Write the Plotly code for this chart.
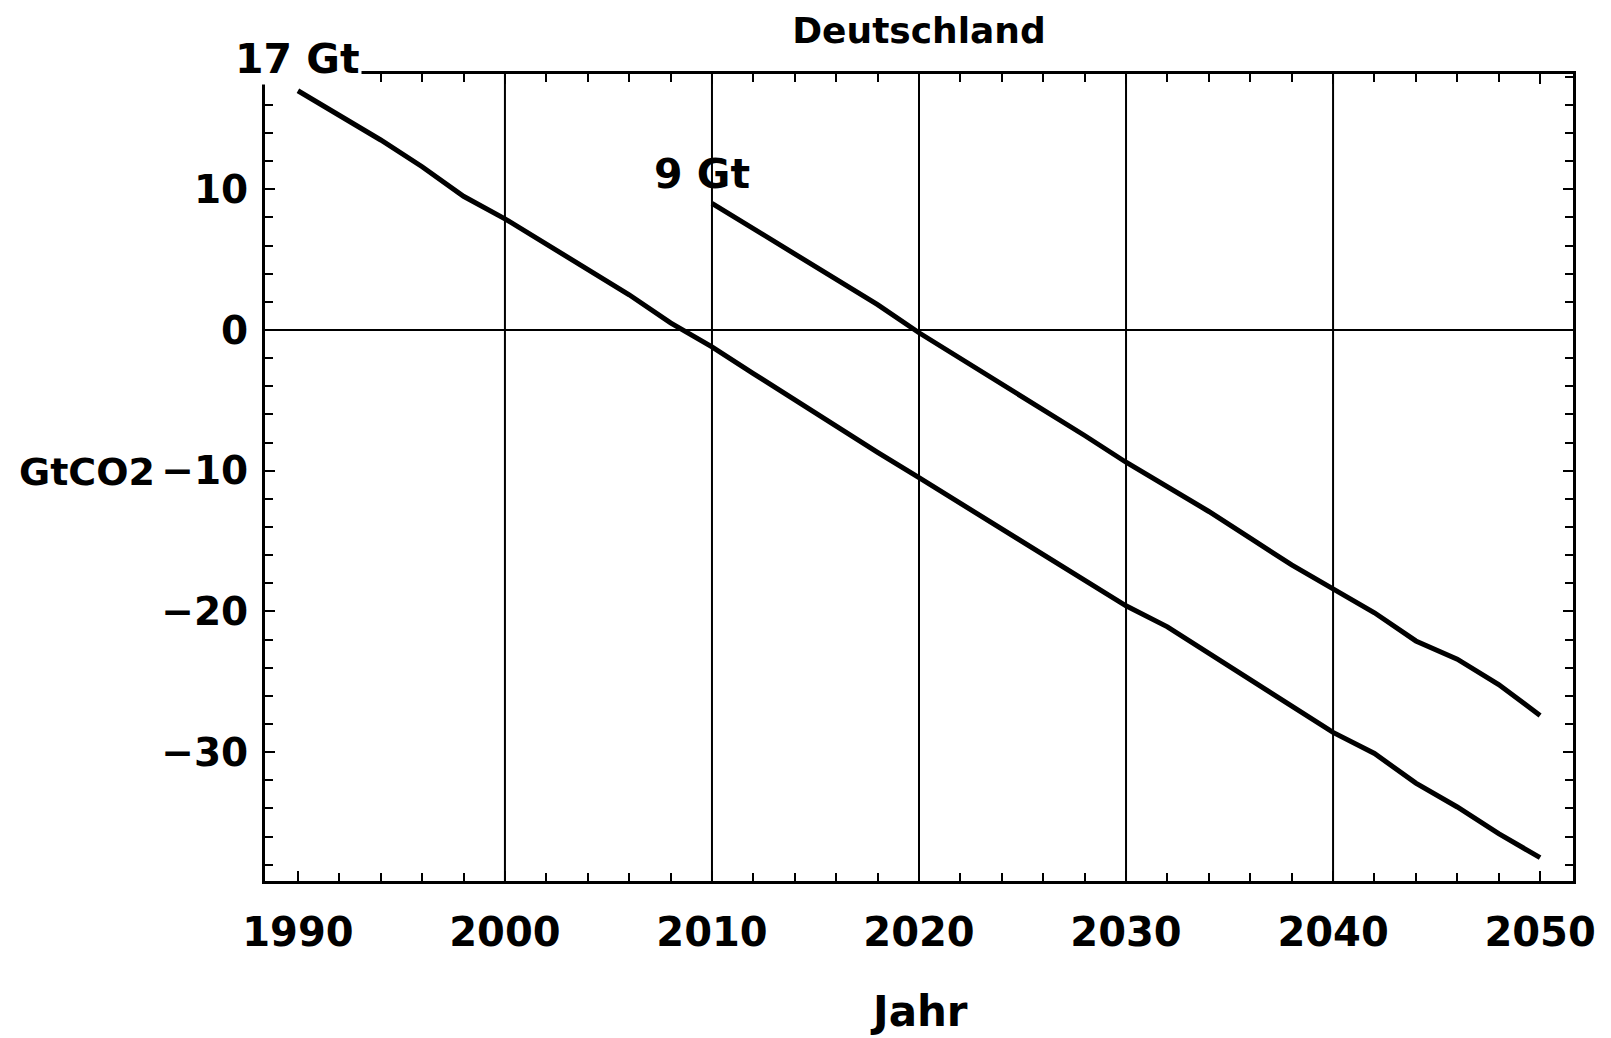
import plotly.graph_objects as go

# Data
years_a = [1990, 1992, 1994, 1996, 1998, 2000, 2002, 2004, 2006, 2008, 2010,
           2012, 2014, 2016, 2018, 2020, 2022, 2024, 2026, 2028, 2030,
           2032, 2034, 2036, 2038, 2040, 2042, 2044, 2046, 2048, 2050]
values_a = [17.0, 15.3, 13.5, 11.6, 9.5, 7.9, 6.1, 4.3, 2.5, 0.5, -1.2,
            -3.1, -5.0, -6.8, -8.7, -10.5, -12.3, -14.2, -16.0, -17.7, -19.6,
            -21.1, -23.0, -24.8, -26.8, -28.6, -30.1, -32.2, -33.9, -35.8, -37.5]

years_b = [2010, 2012, 2014, 2016, 2018, 2020, 2022, 2024, 2026, 2028, 2030,
           2032, 2034, 2036, 2038, 2040, 2042, 2044, 2046, 2048, 2050]
values_b = [9.0, 7.2, 5.5, 3.6, 1.8, -0.2, -2.0, -3.8, -5.7, -7.5, -9.4,
            -11.1, -12.9, -14.8, -16.7, -18.4, -20.1, -22.1, -23.4, -25.2, -27.4]

x_ticks = [1990, 2000, 2010, 2020, 2030, 2040, 2050]
y_ticks = [-30, -20, -10, 0, 10]
grid_years = [2000, 2010, 2020, 2030, 2040]
label_a = "17 Gt"
label_b = "9 Gt"

FONT = "DejaVu Sans"
W, H = 1603, 1030  # page has an 8px body margin

fig = go.Figure()
fig.add_trace(go.Scatter(x=years_a, y=values_a, mode="lines",
                         line=dict(color="black", width=5), showlegend=False))
fig.add_trace(go.Scatter(x=years_b, y=values_b, mode="lines",
                         line=dict(color="black", width=5), showlegend=False))

for gx in grid_years:
    fig.add_vline(x=gx, line=dict(color="black", width=2), layer="below")

fig.add_annotation(x=years_a[0], y=values_a[0], text=label_a, showarrow=False,
                   xanchor="center", yanchor="bottom", yshift=6,
                   bgcolor="white", font=dict(family=FONT, size=41, color="black", weight="bold"))
fig.add_annotation(x=years_b[0], y=values_b[0], text=label_b, showarrow=False,
                   xanchor="center", yanchor="bottom", yshift=3, xshift=-10,
                   font=dict(family=FONT, size=41, color="black", weight="bold"))

fig.add_annotation(xref="paper", yref="paper", x=-0.1896, y=0.507, text="GtCO2",
                   showarrow=False, xanchor="left", yanchor="middle",
                   font=dict(family=FONT, size=38, color="black", weight="bold"))
fig.add_annotation(xref="paper", yref="paper", x=0.5, y=-0.162, text="Jahr",
                   showarrow=False, xanchor="center", yanchor="middle",
                   font=dict(family=FONT, size=42, color="black", weight="bold"))

fig.update_layout(
    width=W, height=H,
    margin=dict(l=257, r=38, t=66, b=157),
    paper_bgcolor="white", plot_bgcolor="white",
    title=dict(text="Deutschland", x=0.5, xref="paper", y=1 - 22 / H, yref="container",
               xanchor="center", yanchor="middle",
               font=dict(family=FONT, size=36, color="black", weight="bold")),
    font=dict(family=FONT, color="black"),
)
fig.update_xaxes(
    range=[1988.41, 2051.59], tickvals=x_ticks, showgrid=False, zeroline=False,
    showline=True, linecolor="black", linewidth=3, mirror="ticks",
    ticks="inside", ticklen=10, tickwidth=2, tickcolor="black",
    minor=dict(ticks="inside", dtick=2, tick0=1990, ticklen=8, tickwidth=2, tickcolor="black", showgrid=False),
    tickfont=dict(family=FONT, size=40, color="black", weight="bold"),
    ticklabelstandoff=14,
)
fig.update_yaxes(
    range=[-39.16, 18.19], tickvals=y_ticks, showgrid=False,
    zeroline=True, zerolinecolor="black", zerolinewidth=2,
    showline=True, linecolor="black", linewidth=3, mirror="ticks",
    ticks="inside", ticklen=10, tickwidth=2, tickcolor="black",
    minor=dict(ticks="inside", dtick=2, tick0=0, ticklen=8, tickwidth=2, tickcolor="black", showgrid=False),
    tickfont=dict(family=FONT, size=39, color="black", weight="bold"),
    ticklabelstandoff=6,
)

fig.write_html("out.html")
